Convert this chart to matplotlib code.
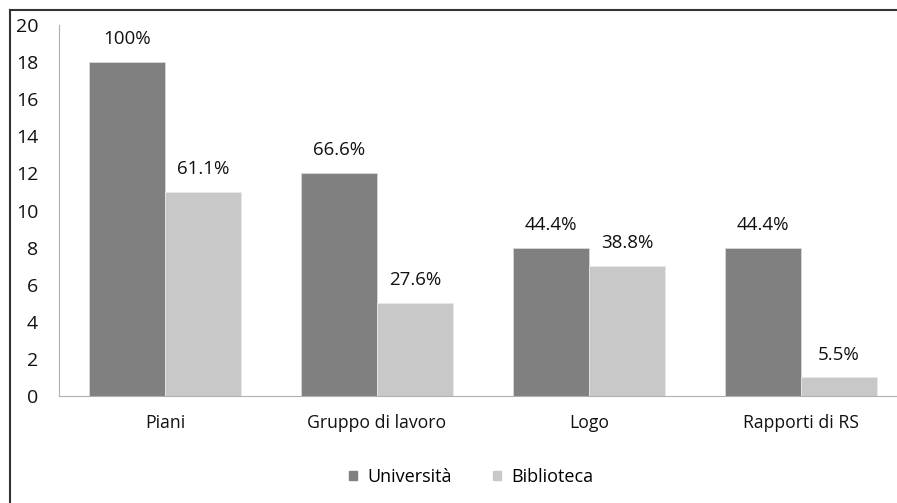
#!/usr/bin/env python3
import matplotlib
matplotlib.use("Agg")
import matplotlib.pyplot as plt
from matplotlib.lines import Line2D
from matplotlib.patches import Patch
import numpy as np

categories = ["Piani", "Gruppo di lavoro", "Logo", "Rapporti di RS"]
universita = [18, 12, 8, 8]
biblioteca = [11, 5, 7, 1]
labels_uni = ["100%", "66.6%", "44.4%", "44.4%"]
labels_bib = ["61.1%", "27.6%", "38.8%", "5.5%"]

plt.rcParams['font.family'] = ['Open Sans', 'DejaVu Sans']

W, H = 897, 503
fig = plt.figure(figsize=(W / 100, H / 100), dpi=100)
# axes runs past the right edge, the original is cropped there
ax = fig.add_axes([59 / W, 1 - 396 / H, 848 / W, (396 - 25) / H])

x = np.arange(len(categories))
bw = 0.358
b1 = ax.bar(x - bw / 2, universita, bw, color="#808080", edgecolor="#d8d8d8", linewidth=0.6)
b2 = ax.bar(x + bw / 2, biblioteca, bw, color="#c8c8c8", edgecolor="#e8e8e8", linewidth=0.6)

for bars, labs in ((b1, labels_uni), (b2, labels_bib)):
    for r, t in zip(bars, labs):
        ax.text(r.get_x() + r.get_width() / 2, r.get_height() + 0.75, t,
                ha="center", va="bottom", fontsize=13.5, color="#111111")

ax.set_xlim(-0.5, len(categories) - 0.5)
ax.set_ylim(0, 20)
ax.set_yticks(range(0, 21, 2))
ax.set_xticks(x)
ax.set_xticklabels(categories)
ax.tick_params(axis="y", length=0, pad=15, labelsize=14, labelcolor="#111111")
ax.tick_params(axis="x", length=0, pad=13, labelsize=12.7, labelcolor="#111111")
for s in ("top", "right"):
    ax.spines[s].set_visible(False)
ax.spines["left"].set_color("#b0b0b0")
ax.spines["bottom"].set_color("#b0b0b0")

handles = [Patch(color="#808080", label="Università"), Patch(color="#c8c8c8", label="Biblioteca")]
fig.legend(handles=handles, loc="center", bbox_to_anchor=(471 / W, 1 - 477 / H), ncol=2,
           frameon=False, fontsize=13, handlelength=0.45, handleheight=0.45,
           handletextpad=0.55, columnspacing=2.3)

# frame lines on left and top (image is cropped on the other sides)
fig.add_artist(Line2D([10 / W, 10 / W], [0, 1 - 10 / H], color="#333333", lw=1.5))
fig.add_artist(Line2D([10 / W, 1], [1 - 10 / H, 1 - 10 / H], color="#333333", lw=1.5))

fig.savefig("out.png", dpi=100)
